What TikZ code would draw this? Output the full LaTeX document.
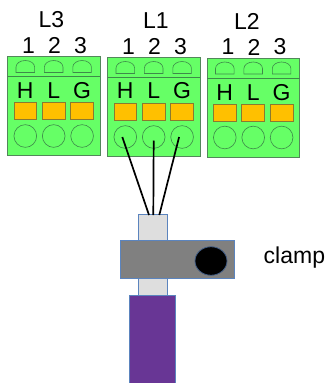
\documentclass[tikz,border=0pt]{standalone}
\usepackage{fontspec}
\usetikzlibrary{shapes.geometric}
\setmainfont{Liberation Sans}
\definecolor{termgreen}{HTML}{66FF66}
\definecolor{termline}{HTML}{3E8A4A}
\definecolor{padfill}{HTML}{FFC000}
\definecolor{padline}{HTML}{8A7A30}
\definecolor{edgeblue}{HTML}{5B84BE}
\definecolor{cablepurple}{HTML}{683695}
\tikzset{
  x=1pt,y=-1pt,
  divider/.style={draw=termline,line width=0.8pt},
  tab/.style={draw=termline,line width=0.6pt},
  hole/.style={draw=termline,line width=0.6pt,circle,minimum size=22.7pt,inner sep=0pt,fill=none},
  pad/.style={draw=padline,fill=padfill,line width=0.8pt,minimum width=22.7pt,minimum height=17pt,inner sep=0pt},
  lab/.style={font=\fontsize{23}{23}\selectfont,text=black,inner sep=0pt,anchor=center},
  wire/.style={draw=black,line width=1.7pt},
  part/.style={draw=edgeblue,line width=1pt},
}
\newcommand{\terminal}[5]{%
  \begin{scope}[shift={(#1,#2)}]
    \draw[draw=termline!70!gray,fill=termgreen,line width=0.9pt] (0,0) rectangle (92.5,99);
    \draw[divider] (0,20) -- (92.5,20);
    \foreach \i/\c in {0/H,1/L,2/G}{
      \pgfmathsetmacro{\xc}{17.8+28.4*\i}
      \pgfmathsetmacro{\xn}{21+26*\i}
      \draw[tab] (\xc-9.3,16) -- (\xc-9.3,10.5) arc[start angle=180,end angle=0,x radius=9.3,y radius=-6.5] -- (\xc+9.3,16) -- cycle;
      \node[lab] (#3c\i) at (\xc,#5) {\c};
      \node[pad] (#3p\i) at (\xc,54.5) {};
      \node[hole] (#3h\i) at (\xc,79.5) {};
      \node[lab] (#3n\i) at (\xn,-11) {\the\numexpr\i+1\relax};
    }
    \node[lab] (#3t) at (#4,-36.5) {#3};
  \end{scope}}
\begin{document}
\begin{tikzpicture}
\useasboundingbox (0,0) rectangle (327,383);
\fill[white] (0,0) rectangle (327,383);
\terminal{7.5}{56.5}{L3}{43.8}{34}
\terminal{107.5}{57.5}{L1}{48.5}{33}
\terminal{207}{58}{L2}{40}{35}
\node[part,fill=black!13,minimum width=29.4pt,minimum height=80.7pt,inner sep=0pt] (sleeve) at (153,254.7) {};
\coordinate (w1) at (149,215);
\coordinate (w2) at (153.3,215);
\coordinate (w3) at (159.3,215);
\draw[wire] ([xshift=-3pt]L1h0.center) -- (w1);
\draw[wire] ([yshift=-3.5pt]L1h1.center) -- (w2);
\draw[wire] ([xshift=-3pt]L1h2.center) -- (w3);
\node[part,fill=black!50,minimum width=113.7pt,minimum height=38pt,inner sep=0pt] (clampbody) at (177.8,259) {};
\node[draw=edgeblue!70!black,fill=black,line width=0.8pt,ellipse,minimum width=32pt,minimum height=28.5pt,inner sep=0pt] (screw) at (211,261) {};
\node[part,fill=cablepurple,minimum width=45.5pt,minimum height=90pt,inner sep=0pt,anchor=north] (cable) at (152.3,295) {};
\node[font=\fontsize{23}{23}\selectfont,anchor=base west,inner sep=0pt] (clamplabel) at (263.5,263.5) {clamp};
\end{tikzpicture}
\end{document}
